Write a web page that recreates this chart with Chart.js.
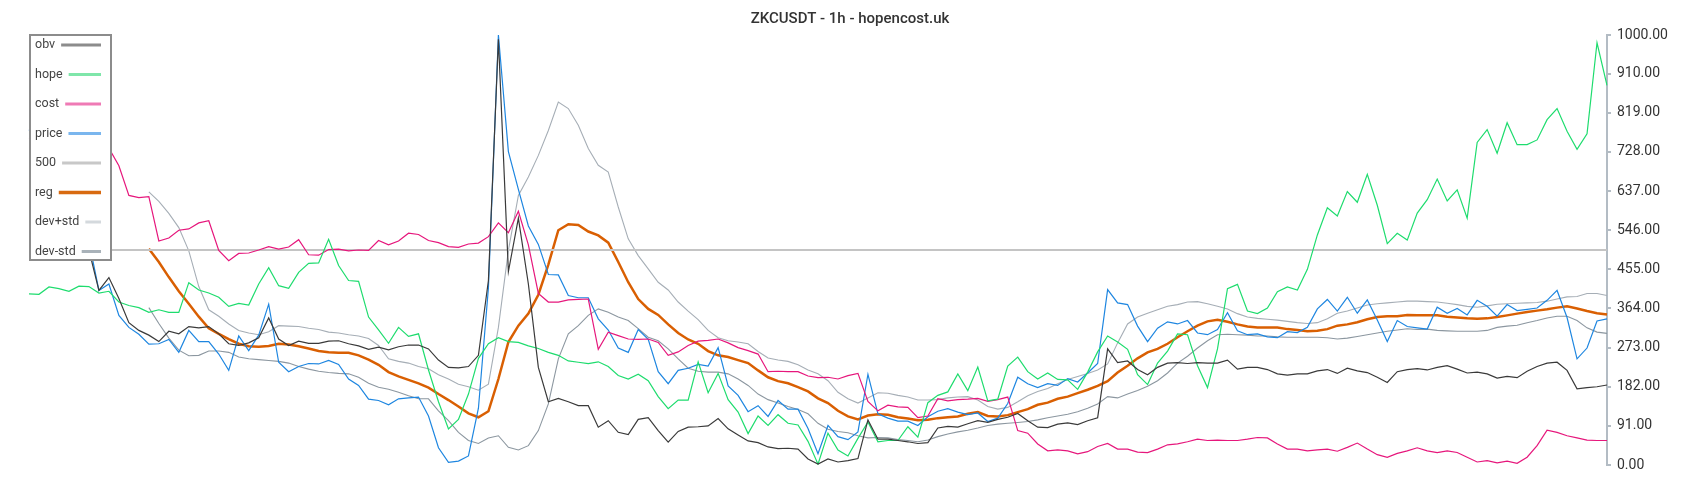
<!DOCTYPE html>
<html>
<head>
<meta charset="utf-8">
<title>ZKCUSDT - 1h - hopencost.uk</title>
<script src="https://cdn.jsdelivr.net/npm/chart.js@4.4.1/dist/chart.umd.min.js"></script>
<style>
  html, body { margin: 0; padding: 0; background: #fff; }
  #wrap { width: 1700px; height: 500px; }
</style>
</head>
<body>
<div id="wrap"><canvas id="chart" width="1700" height="500"></canvas></div>
<script>
//------------------------------ DATA ----------------------------------
const chartTitle = 'ZKCUSDT - 1h - hopencost.uk';
const yTicks = [0, 91, 182, 273, 364, 455, 546, 637, 728, 819, 910, 1000];
const level500 = 500;

const obv = [
  560,560,555,550,545,530,500,406,436,387,331,313,302,287,311,305,322,319,322,305,
  282,278,284,296,342,293,278,288,283,283,288,289,282,277,269,274,268,275,279,279,
  270,244,227,226,229,255,429,990,450,574,421,227,147,155,147,138,138,88,103,76,
  71,106,110,80,53,78,88,89,91,108,84,70,56,52,42,38,39,37,14,2,
  14,7,10,15,105,60,60,57,54,50,52,86,90,88,96,103,99,106,111,120,
  103,88,87,95,98,94,103,110,270,238,242,222,210,227,237,238,236,238,237,237,
  244,223,227,227,222,212,209,212,212,219,222,213,225,219,215,204,192,217,222,224,
  221,227,231,223,214,216,212,202,206,203,218,229,237,239,220,177,180,182,186
];

const hope = [
  398,397,414,410,404,416,415,400,404,379,371,366,355,361,355,355,424,407,400,390,
  369,376,372,421,459,417,411,448,469,470,525,464,429,427,344,314,283,320,299,305,
  221,147,84,106,165,248,282,296,287,285,277,271,262,255,242,239,236,240,229,208,
  200,211,196,159,131,151,151,240,168,213,152,123,73,114,92,117,97,93,55,2,
  74,35,21,62,100,54,57,57,89,65,145,162,170,212,173,228,149,153,230,251,
  217,200,214,199,198,176,216,263,300,286,269,210,187,237,265,305,303,231,180,270,
  410,420,358,352,365,403,414,407,455,535,598,579,636,611,676,604,515,539,523,586,
  617,665,614,640,574,750,780,725,796,745,745,756,803,829,776,734,770,982,883
];

const cost = [
  760,755,750,745,745,742,740,738,737,696,627,622,624,521,528,546,549,563,568,499,
  475,492,493,500,508,502,507,524,489,488,501,502,498,500,499,522,512,521,539,536,
  522,517,508,506,514,516,531,563,540,590,512,399,379,379,384,385,386,269,309,301,
  293,292,293,285,255,263,278,288,290,293,284,273,266,258,217,218,217,217,207,203,
  204,200,208,213,148,126,139,135,134,110,114,154,149,152,153,155,148,152,158,80,
  74,49,33,35,33,26,31,43,50,37,37,30,29,37,47,49,54,60,57,58,
  57,57,60,64,63,49,37,37,33,35,37,32,41,51,37,24,18,27,33,40,
  33,29,33,29,18,7,10,5,9,4,18,45,81,76,68,63,58,57,57
];

const price = [
  780,740,700,650,600,560,520,406,421,348,320,304,281,282,292,262,313,287,287,258,
  220,300,266,302,374,239,217,229,236,235,243,234,200,185,153,150,140,154,156,158,
  114,40,6,9,21,132,412,1000,729,641,556,513,443,442,394,389,389,340,314,272,
  262,315,292,217,189,220,225,234,230,273,184,162,124,138,113,150,130,130,85,26,
  92,66,59,77,211,119,109,102,102,92,112,125,131,123,117,121,101,109,143,204,
  189,180,189,185,201,193,214,236,408,377,373,323,287,318,333,328,336,307,303,315,
  354,312,303,305,298,296,310,308,320,363,385,358,390,353,384,337,287,336,322,319,
  316,367,353,364,349,383,369,346,373,359,362,365,383,406,343,247,272,335,340
];

const reg = [
  null,null,null,null,null,null,null,null,null,null,null,null,503,472,437,404,375,345,318,305,
  293,282,276,275,277,282,280,276,271,265,262,261,261,255,245,233,216,206,198,190,
  180,165,151,136,120,111,125,200,286,324,352,396,466,546,560,558,543,534,517,472,
  425,386,363,349,327,307,292,282,265,255,251,244,237,220,204,195,190,181,171,155,
  144,126,113,106,115,118,117,111,108,104,105,109,111,113,119,123,114,113,116,123,
  130,140,145,154,159,167,175,184,195,215,231,248,262,270,282,297,311,324,334,338,
  333,327,322,320,320,320,316,314,311,312,316,324,327,332,339,344,346,346,349,348,
  348,348,345,343,341,340,341,344,348,352,356,359,362,366,369,364,358,353,350
];

const devPlus = [
  null,null,null,null,null,null,null,null,null,null,null,null,635,613,585,552,498,415,361,346,
  328,313,307,303,310,324,323,322,318,315,309,307,303,300,294,278,247,241,237,229,
  224,210,200,188,182,174,188,320,499,627,670,720,778,844,829,790,736,697,681,600,
  526,487,456,425,407,379,358,338,313,296,289,286,282,264,249,244,241,233,221,212,
  196,169,154,144,156,168,167,162,158,151,151,152,156,158,159,151,136,130,134,147,
  161,171,178,189,199,206,213,221,235,284,328,344,353,361,369,373,379,380,375,369,
  363,352,344,341,339,337,334,331,329,331,340,353,358,365,372,375,377,379,381,381,
  380,379,376,373,369,367,370,374,375,376,377,378,381,386,391,392,399,399,394
];

const devMinus = [
  null,null,null,null,null,null,null,null,null,null,null,null,366,329,295,267,254,255,265,265,
  262,251,247,245,243,241,237,229,223,218,215,213,212,204,190,181,176,169,161,154,
  154,126,103,76,57,50,63,68,41,35,45,80,142,247,305,324,348,363,355,344,
  336,317,297,289,270,247,225,218,216,216,212,200,185,165,152,144,136,129,119,97,
  83,78,75,68,63,64,63,59,57,54,58,66,72,77,81,86,92,95,97,99,
  101,105,110,114,118,124,132,142,159,156,165,173,183,196,214,237,253,272,289,303,
  304,303,302,300,300,298,297,297,297,297,296,293,295,299,303,307,311,314,317,315,
  316,313,312,311,311,311,313,320,323,325,331,336,342,346,346,336,319,309,306
];

const labels = price.map((_, i) => i);
const line500 = labels.map(() => level500);

// warna garis di chart dan di legend (legend lebih pucat)
const series = [
  { label: 'obv',     data: obv,      color: '#3a3a3a', legend: '#8c8c8c', width: 1.2 },
  { label: 'hope',    data: hope,     color: '#1edc6e', legend: '#7fe6aa', width: 1.2 },
  { label: 'cost',    data: cost,     color: '#e6177c', legend: '#ef7ab5', width: 1.2 },
  { label: 'price',   data: price,    color: '#1e86e0', legend: '#7ab6ee', width: 1.2 },
  { label: '500',     data: line500,  color: '#c4c4c4', legend: '#c8c8c8', width: 2 },
  { label: 'reg',     data: reg,      color: '#d95f02', legend: '#d86a10', width: 2.5 },
  { label: 'dev+std', data: devPlus,  color: '#a6aeb6', legend: '#d4d9dd', width: 1.1 },
  { label: 'dev-std', data: devMinus, color: '#8c97a0', legend: '#a9b2b9', width: 1.1 }
];

//------------------------------ PLUGINS ----------------------------------
// judul di tengah canvas
const titlePlugin = {
  id: 'titleText',
  afterDraw(chart) {
    const ctx = chart.ctx;
    ctx.save();
    ctx.font = '500 15px Roboto';
    ctx.fillStyle = '#333';
    ctx.textAlign = 'center';
    ctx.textBaseline = 'middle';
    ctx.fillText(chartTitle, chart.width / 2, 19.5);
    ctx.restore();
  }
};

// kotak legend di kiri atas, teks kiri, garis kanan
const boxLegend = {
  id: 'boxLegend',
  afterDraw(chart) {
    const ctx = chart.ctx;
    const x = 30, y = 35, w = 81, h = 225;
    ctx.save();
    ctx.fillStyle = '#fff';
    ctx.fillRect(x, y, w, h);
    ctx.strokeStyle = '#8c8c8c';
    ctx.lineWidth = 2;
    ctx.strokeRect(x, y, w, h);
    ctx.font = '12.5px Roboto';
    ctx.textBaseline = 'middle';
    ctx.textAlign = 'left';
    series.forEach((s, k) => {
      const ty = 45 + k * 29.5;
      ctx.fillStyle = '#444';
      ctx.fillText(s.label, 35, ty);
      const tw = ctx.measureText(s.label).width;
      ctx.strokeStyle = s.legend;
      ctx.lineWidth = s.label === 'reg' ? 3.5 : 3;
      ctx.beginPath();
      ctx.moveTo(35 + tw + 6, ty);
      ctx.lineTo(101, ty);
      ctx.stroke();
    });
    ctx.restore();
  }
};

//------------------------------ CHART ----------------------------------
new Chart(document.getElementById('chart'), {
  type: 'line',
  data: {
    labels: labels,
    datasets: series.map((s, k) => ({
      label: s.label,
      data: s.data,
      borderColor: s.color,
      backgroundColor: s.color,
      borderWidth: s.width,
      pointRadius: 0,
      tension: 0,
      fill: false,
      spanGaps: false,
      order: k
    }))
  },
  options: {
    responsive: false,
    animation: false,
    layout: { padding: { left: 29, top: 35, bottom: 35, right: 0 } },
    plugins: {
      legend: { display: false },
      title: { display: false },
      tooltip: { enabled: false }
    },
    scales: {
      x: { display: false },
      y: {
        position: 'right',
        min: 0,
        max: 1000,
        afterBuildTicks: (scale) => { scale.ticks = yTicks.map(v => ({ value: v })); },
        afterFit: (scale) => { scale.width = 93; },
        ticks: {
          padding: 6,
          color: '#333',
          font: { family: 'Roboto', size: 14 },
          callback: (v) => Number(v).toFixed(2)
        },
        grid: { drawOnChartArea: false, drawTicks: true, tickLength: 4, color: '#b3bcc4', lineWidth: 2 },
        border: { display: true, color: '#b3bcc4', width: 2 }
      }
    }
  },
  plugins: [titlePlugin, boxLegend]
});
</script>
</body>
</html>
